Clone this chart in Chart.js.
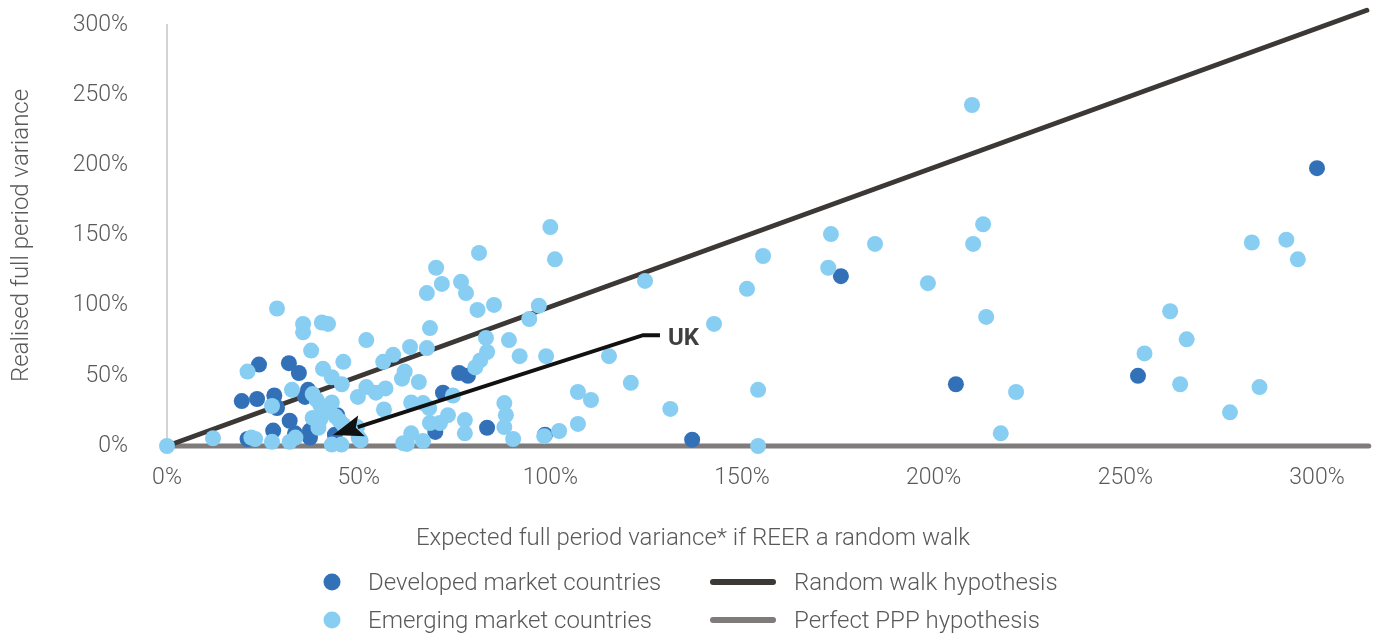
<!DOCTYPE html>
<html>
<head>
<meta charset="utf-8">
<title>Realised vs expected REER variance</title>
<script src="https://cdn.jsdelivr.net/npm/chart.js@4.4.0/dist/chart.umd.min.js"></script>
<style>
  html, body { margin: 0; padding: 0; background: #fff; }
  #wrap { position: relative; width: 1380px; height: 639px; font-family: Roboto, sans-serif; font-weight: 300; color: #595959; }
  #chart { position: absolute; left: 0; top: 0; }
  #xTitle { position: absolute; left: 693px; top: 537px; font-size: 24px; line-height: 28px; white-space: nowrap; transform: translate(-50%, -50%); }
  .lg-text { position: absolute; font-size: 24px; line-height: 28px; white-space: nowrap; transform: translateY(-50%); }
  .lg-dot { position: absolute; width: 17px; height: 17px; border-radius: 50%; transform: translate(-50%, -50%); }
  .lg-bar { position: absolute; width: 66px; height: 6px; border-radius: 3px; transform: translateY(-50%); }
</style>
</head>
<body>
<div id="wrap">
  <canvas id="chart" width="1380" height="639"></canvas>
  <div id="xTitle"></div>
  <div id="legend"></div>
</div>
<script>
// Expected (x) vs realised (y) full period variance, in %
const developedMarkets = [
    [19.5, 32], [24, 58], [23.5, 33.5], [28, 36], [31.8, 59], [34.4, 52], [36.8, 40], [36, 35],
    [28.5, 28], [28.7, 27], [32, 18], [27.7, 11], [33.4, 9], [37.3, 11], [37.3, 6], [21, 5],
    [43.8, 8], [44.4, 22], [72, 38], [76.2, 52], [78.5, 50], [70, 10], [83.5, 13], [98.6, 8],
    [137, 4.5], [175.8, 121], [205.8, 44], [253.3, 50], [300, 198]
];
const emergingMarkets = [
    [0, 0], [12, 5.5], [21, 53], [22, 6], [23, 5], [27.4, 3], [27.4, 28.5], [28.7, 98],
    [32, 3], [32.6, 40], [33.5, 6], [35.5, 87], [35.5, 81], [37.6, 68], [40.4, 88], [42, 87],
    [40.7, 55], [43, 49], [45.6, 44], [46, 60], [38, 37], [39, 33], [40, 29], [41, 24],
    [42, 27], [43, 31], [38, 20], [40, 19], [44, 21], [45, 18], [39.5, 13], [46, 15],
    [43, 1], [45.5, 1], [49.6, 13.5], [50, 6], [50.5, 4], [49.8, 35], [52, 75.5], [52, 42],
    [54.5, 38], [57, 41], [56.4, 60], [59, 65], [56.6, 26], [61.3, 48], [62, 53], [62.6, 1.5],
    [61.6, 2], [63.4, 70.6], [63.7, 31], [63.7, 9], [65.7, 45.6], [66.8, 30.6], [66.8, 3.5],
    [67.8, 69.8], [67.8, 109], [68.4, 27], [68.6, 84], [68.6, 16.4], [70.2, 127], [71.2, 16.4],
    [71.7, 115.5], [73.3, 22], [74.6, 36], [76.7, 117], [77.7, 18.5], [77.7, 9], [78, 109],
    [80.4, 56], [81, 97], [81.4, 137.6], [81.7, 61], [83.2, 77], [83.5, 67], [85.3, 100.5],
    [88, 30.6], [88.4, 22], [88, 13.5], [89.2, 75.5], [90.3, 5], [92, 64], [94.5, 90.5],
    [97, 100], [98.9, 64], [98.4, 7], [100, 156], [101.2, 133], [102.3, 10.7], [107.2, 38.5],
    [107.2, 15.7], [110.6, 32.8], [115.3, 64], [121, 45], [124.7, 117.6], [131.3, 26.4],
    [142.7, 87], [151.3, 112], [154.2, 40], [154.2, 0], [155.5, 135.4], [172.5, 127],
    [173.2, 151], [184.7, 144], [198.5, 116], [210, 243], [210.3, 144], [212.9, 158],
    [213.7, 92], [217.5, 9], [221.5, 38.5], [255, 66], [261.7, 96], [264.3, 44], [266, 76],
    [277.3, 24], [283, 145], [285, 42], [292, 147], [295, 133]
];
const randomWalkLine = [[0, 0], [313, 310.5]];
const perfectPPPLine = [[0, 0], [313.5, 0]];

// UK call-out: label end, elbow, arrow tip
const ukLeaderPath = [[128.6, 79], [124.2, 79], [43.3, 7.8]];
const ukLabel = 'UK';
const ukLabelAt = [130.7, 76.3];

const seriesNames = ['Developed market countries', 'Emerging market countries', 'Random walk hypothesis', 'Perfect PPP hypothesis'];
const seriesColors = ['#3271b8', '#87cef2', '#3b3836', '#7f7b7a'];
const xTitleText = 'Expected full period variance* if REER a random walk';
const yTitleText = 'Realised full period variance';

const textColor = '#595959';
const tickFont = { family: 'Roboto', size: 23, weight: 300 };
const titleFont = { family: 'Roboto', size: 24, weight: 300 };

function toPoints(list) {
    return list.map(p => ({ x: p[0], y: p[1] }));
}

const ukArrowPlugin = {
    id: 'ukArrow',
    afterDatasetsDraw(chart) {
        const { ctx, scales: { x, y } } = chart;
        const pts = ukLeaderPath.map(p => [x.getPixelForValue(p[0]), y.getPixelForValue(p[1])]);
        const tip = pts[pts.length - 1];
        const prev = pts[pts.length - 2];
        const ang = Math.atan2(tip[1] - prev[1], tip[0] - prev[0]);
        const headLen = 30, headW = 11;
        const base = [tip[0] - headLen * Math.cos(ang), tip[1] - headLen * Math.sin(ang)];
        const nx = -Math.sin(ang), ny = Math.cos(ang);

        ctx.save();
        ctx.strokeStyle = '#111';
        ctx.fillStyle = '#111';
        ctx.lineWidth = 4;
        ctx.beginPath();
        ctx.moveTo(pts[0][0], pts[0][1]);
        for (let i = 1; i < pts.length - 1; i++) ctx.lineTo(pts[i][0], pts[i][1]);
        ctx.lineTo(base[0] + 4 * Math.cos(ang), base[1] + 4 * Math.sin(ang));
        ctx.stroke();

        ctx.beginPath();
        ctx.moveTo(tip[0], tip[1]);
        ctx.lineTo(base[0] + nx * headW, base[1] + ny * headW);
        ctx.lineTo(base[0] + 6 * Math.cos(ang), base[1] + 6 * Math.sin(ang));
        ctx.lineTo(base[0] - nx * headW, base[1] - ny * headW);
        ctx.closePath();
        ctx.fill();

        ctx.font = 'bold 24px Roboto';
        ctx.fillStyle = '#404040';
        ctx.textBaseline = 'middle';
        ctx.fillText(ukLabel, x.getPixelForValue(ukLabelAt[0]), y.getPixelForValue(ukLabelAt[1]));
        ctx.restore();
    }
};

const ctx = document.getElementById('chart').getContext('2d');
const chart = new Chart(ctx, {
    type: 'scatter',
    data: {
        datasets: [
            {
                label: seriesNames[1],
                data: toPoints(emergingMarkets),
                backgroundColor: seriesColors[1],
                borderWidth: 0,
                pointRadius: 8,
                pointHoverRadius: 8,
                order: 1,
                clip: false
            },
            {
                label: seriesNames[0],
                data: toPoints(developedMarkets),
                backgroundColor: seriesColors[0],
                borderWidth: 0,
                pointRadius: 8,
                pointHoverRadius: 8,
                order: 2,
                clip: false
            },
            {
                type: 'line',
                label: seriesNames[2],
                data: toPoints(randomWalkLine),
                borderColor: seriesColors[2],
                borderWidth: 5,
                borderCapStyle: 'round',
                pointRadius: 0,
                order: 3,
                clip: false
            },
            {
                type: 'line',
                label: seriesNames[3],
                data: toPoints(perfectPPPLine),
                borderColor: seriesColors[3],
                borderWidth: 5,
                borderCapStyle: 'round',
                pointRadius: 0,
                order: 4,
                clip: false
            }
        ]
    },
    options: {
        responsive: false,
        animation: false,
        layout: { padding: { left: 0, right: 63, top: 25, bottom: 0 } },
        plugins: {
            legend: { display: false },
            tooltip: { enabled: false }
        },
        scales: {
            x: {
                type: 'linear',
                min: 0,
                max: 300,
                grid: { display: false },
                border: { display: false },
                ticks: { stepSize: 50, padding: 10, color: textColor, font: tickFont, callback: v => v + '%' },
                title: { display: false },
                afterFit(scale) {
                    scale.height = 193;
                }
            },
            y: {
                type: 'linear',
                min: 0,
                max: 300,
                grid: { display: false },
                border: { display: true, color: '#d4d4d4', width: 2 },
                ticks: { stepSize: 50, padding: 31, color: textColor, font: tickFont, callback: v => v + '%' },
                title: {
                    display: true,
                    text: yTitleText,
                    color: textColor,
                    font: titleFont,
                    padding: { top: 8, bottom: 0 }
                },
                afterFit(scale) {
                    scale.width = 167;
                    scale.paddingTop = 0;
                    scale.paddingBottom = 0;
                }
            }
        }
    },
    plugins: [ukArrowPlugin]
});

document.getElementById('xTitle').textContent = xTitleText;

// Legend (two columns, two rows)
const legendSpots = [
    { kind: 'dot', cx: 332, cy: 582, tx: 368 },
    { kind: 'dot', cx: 332, cy: 620, tx: 368 },
    { kind: 'bar', cx: 710, cy: 582, tx: 794 },
    { kind: 'bar', cx: 710, cy: 620, tx: 794 }
];
let legendHtml = '';
legendSpots.forEach((s, i) => {
    if (s.kind === 'dot') {
        legendHtml += `<div class="lg-dot" style="left:${s.cx}px;top:${s.cy}px;background:${seriesColors[i]}"></div>`;
    } else {
        legendHtml += `<div class="lg-bar" style="left:${s.cx}px;top:${s.cy}px;background:${seriesColors[i]}"></div>`;
    }
    legendHtml += `<div class="lg-text" style="left:${s.tx}px;top:${s.cy}px">${seriesNames[i]}</div>`;
});
document.getElementById('legend').innerHTML = legendHtml;
</script>
</body>
</html>
